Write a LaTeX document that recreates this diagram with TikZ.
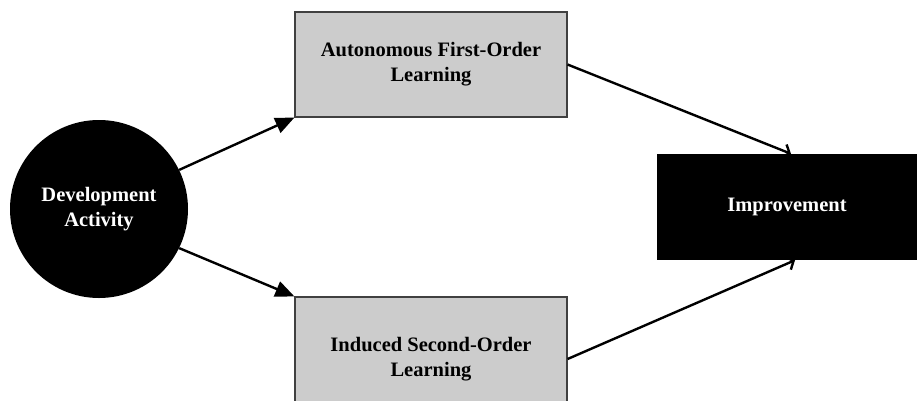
\documentclass[tikz,border=0pt]{standalone}
\usepackage{fontspec}
\setmainfont{Liberation Serif}
\usetikzlibrary{arrows.meta}

\begin{document}
\begin{tikzpicture}[
  x=1pt,y=-1pt,
  every node/.style={font=\bfseries\fontsize{20.5}{25}\selectfont,align=center},
  actnode/.style={circle,fill=black,text=white,minimum size=178pt,inner sep=0pt},
  learnbox/.style={rectangle,draw=black!75,line width=1.2pt,fill=black!20,minimum width=272pt,inner sep=0pt},
  resbox/.style={rectangle,fill=black,text=white,minimum width=260pt,minimum height=106pt,inner sep=0pt},
  fed/.style={draw,line width=2.4pt,-{Triangle[length=19pt,width=16pt]}},
  outed/.style={draw,line width=2.4pt,-{Straight Barb[length=6pt,width=14pt,line width=2.4pt]}}]

\useasboundingbox (0,0) rectangle (917,400);

% ---- nodes ----
\node[actnode]  (act)    at (99,209)  {Development\\Activity};
\node[learnbox,minimum height=105pt] (first)  at (431,64.5) {Autonomous First-Order\\Learning};
\node[learnbox,minimum height=124pt] (second) at (431,359)  {Induced Second-Order\\Learning};
\node[resbox]   (impr)   at (787,207) {Improvement};

% ---- connectors ----
\draw[fed] (act.26) -- (first.south west);
\draw[fed] (act.-26) -- (second.north west);
\draw[outed] (first.east) -- ([xshift=4pt]impr.north);
\draw[outed] (second.east) -- ([xshift=8pt]impr.south);
\end{tikzpicture}
\end{document}
